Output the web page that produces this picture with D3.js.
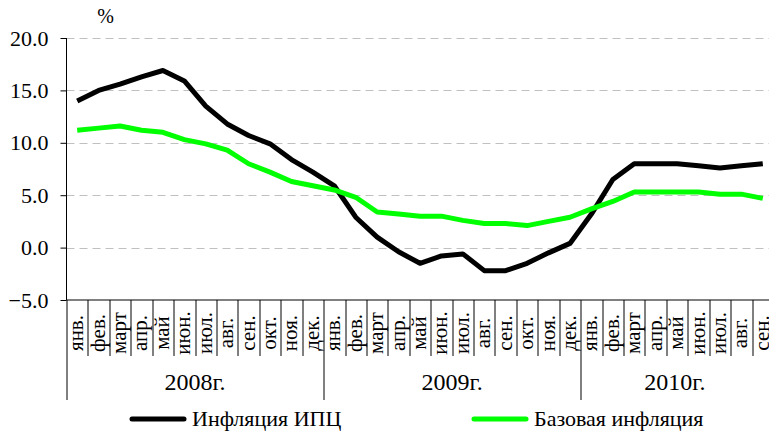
<!DOCTYPE html>
<html>
<head>
<meta charset="utf-8">
<script src="https://cdn.jsdelivr.net/npm/d3@7"></script>
<style>
  body { margin: 0; background: #fff; }
</style>
</head>
<body>
<div id="chart"></div>
<script>
// Chart data
var years = ["2008г.", "2009г.", "2010г."];
var monthsFull = ["янв.", "фев.", "март", "апр.", "май", "июн.", "июл.", "авг.", "сен.", "окт.", "ноя.", "дек."];
var monthsPerYear = [12, 12, 9];

var cpi = [14.0, 15.0, 15.6, 16.3, 16.9, 15.9, 13.5, 11.8, 10.7, 9.9, 8.4, 7.2,
           5.9, 2.9, 1.0, -0.4, -1.5, -0.8, -0.6, -2.2, -2.2, -1.5, -0.5, 0.4,
           3.2, 6.5, 8.0, 8.0, 8.0, 7.8, 7.6, 7.8, 8.0];
var base = [11.2, 11.4, 11.6, 11.2, 11.0, 10.3, 9.9, 9.3, 8.0, 7.2, 6.3, 5.9,
            5.5, 4.8, 3.4, 3.2, 3.0, 3.0, 2.6, 2.3, 2.3, 2.1, 2.5, 2.9,
            3.7, 4.4, 5.3, 5.3, 5.3, 5.3, 5.1, 5.1, 4.7];
var yTicks = [-5, 0, 5, 10, 15, 20];

var seriesNames = ["Инфляция ИПЦ", "Базовая инфляция"];
var seriesColors = ["#000000", "#00ff00"];

var serif = "'Liberation Serif', 'Times New Roman', Times, 'DejaVu Serif', serif";

// Build category list (unique keys, month label, year index)
var cats = [];
monthsPerYear.forEach(function (n, yi) {
  for (var m = 0; m < n; m++) {
    cats.push({ key: yi + "-" + m, label: monthsFull[m], year: yi });
  }
});

var svgWidth = 769;
var svgHeight = 432;

var margin = { top: 38, left: 66.5, right: -4.5, bottom: 132 };
var width = svgWidth - margin.left - margin.right;
var height = svgHeight - margin.top - margin.bottom;

var svg = d3.select("#chart")
  .append("svg")
  .attr("width", svgWidth)
  .attr("height", svgHeight)
  .attr("font-family", serif);

var g = svg.append("g")
  .attr("transform", `translate(${margin.left}, ${margin.top})`);

var x = d3.scaleBand()
  .domain(cats.map(d => d.key))
  .range([0, width])
  .padding(0);

var y = d3.scaleLinear()
  .domain([-5, 20])
  .range([height, 0]);

// gridlines
g.selectAll(".grid")
  .data(yTicks.filter(d => d > -5))
  .enter()
  .append("line")
  .attr("x1", 0)
  .attr("x2", width)
  .attr("y1", d => Math.round(y(d)) + 0.5)
  .attr("y2", d => Math.round(y(d)) + 0.5)
  .attr("stroke", "#c0c0c0")
  .attr("stroke-width", 1)
  .attr("stroke-dasharray", "8,5");

// y axis
var leftAxis = d3.axisLeft(y)
  .tickValues(yTicks)
  .tickSize(6)
  .tickPadding(12)
  .tickFormat(d3.format(".1f"));

var yAxisG = g.append("g").call(leftAxis)
  .attr("font-family", serif)
  .attr("font-size", 22);
yAxisG.select(".domain").remove();
yAxisG.append("line")
  .attr("x1", 0).attr("x2", 0)
  .attr("y1", 0).attr("y2", height)
  .attr("stroke", "#000");
yAxisG.selectAll("text").attr("fill", "#000");

// "%" unit label
g.append("text")
  .attr("x", 39)
  .attr("y", -15)
  .attr("text-anchor", "middle")
  .attr("font-size", 20)
  .text("%");

// category axis
var axisG = g.append("g").attr("transform", `translate(0, ${height})`);
axisG.append("line")
  .attr("x1", 0).attr("x2", width)
  .attr("y1", 0).attr("y2", 0)
  .attr("stroke", "#000");

// separators between categories
var bounds = d3.range(cats.length + 1);
axisG.selectAll(".sep")
  .data(bounds)
  .enter()
  .append("line")
  .attr("x1", i => Math.round(i * x.bandwidth()) + 0.5)
  .attr("x2", i => Math.round(i * x.bandwidth()) + 0.5)
  .attr("y1", 0)
  .attr("y2", i => (i === 0 || i === 12 || i === 24 || i === cats.length) ? 100 : 56)
  .attr("stroke", "#000");

// month labels
axisG.selectAll(".month")
  .data(cats)
  .enter()
  .append("text")
  .attr("transform", d => `translate(${x(d.key) + x.bandwidth() / 2 + 6}, 33) rotate(-90)`)
  .attr("text-anchor", "middle")
  .attr("font-size", 21)
  .text(d => d.label);

// year labels
var start = 0;
years.forEach(function (yr, yi) {
  var n = monthsPerYear[yi];
  var x0 = x(cats[start].key);
  var x1 = x(cats[start + n - 1].key) + x.bandwidth();
  var cx = yi === 2 ? (x0 + Math.min(x1, svgWidth - margin.left)) / 2 : (x0 + x1) / 2;
  axisG.append("text")
    .attr("x", cx)
    .attr("y", 90)
    .attr("text-anchor", "middle")
    .attr("font-size", 24)
    .text(yr);
  start += n;
});

// lines
var line = d3.line()
  .x((d, i) => x(cats[i].key) + x.bandwidth() / 2)
  .y(d => y(d));

[cpi, base].forEach(function (series, si) {
  g.append("path")
    .datum(series)
    .attr("fill", "none")
    .attr("stroke", seriesColors[si])
    .attr("stroke-width", 5)
    .attr("stroke-linejoin", "round")
    .attr("d", line);
});

// legend
var legendPos = [130, 472];
seriesNames.forEach(function (name, si) {
  var lg = svg.append("g").attr("transform", `translate(${legendPos[si]}, 419)`);
  lg.append("line")
    .attr("x1", 2).attr("x2", 54)
    .attr("y1", 0).attr("y2", 0)
    .attr("stroke", seriesColors[si])
    .attr("stroke-width", 5)
    .attr("stroke-linecap", "round");
  lg.append("text")
    .attr("x", 62)
    .attr("y", 7)
    .attr("font-size", 22)
    .text(name);
});
</script>
</body>
</html>
